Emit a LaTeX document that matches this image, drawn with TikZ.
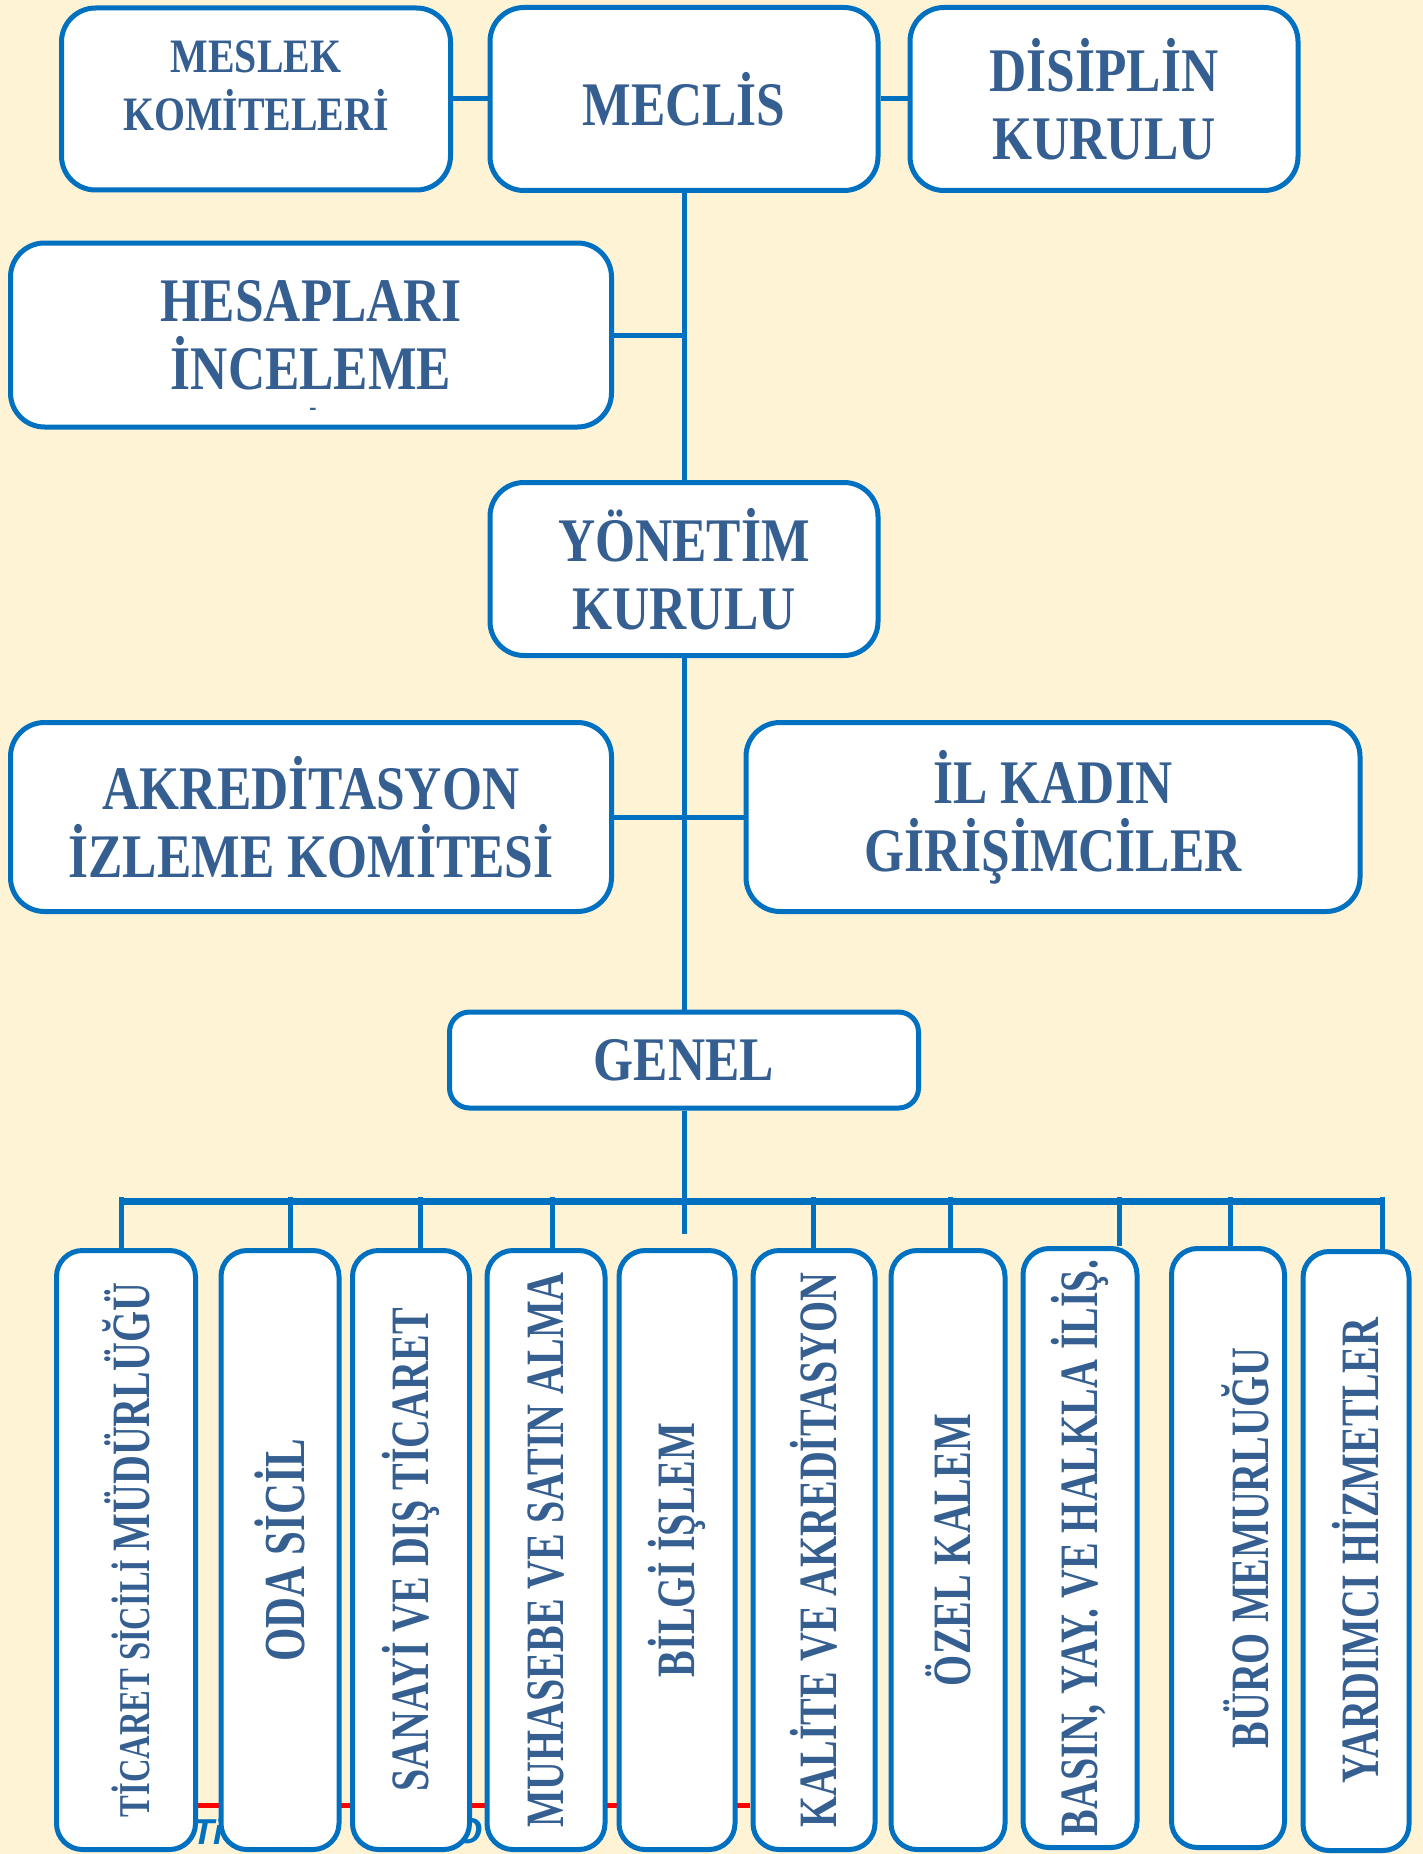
\documentclass[tikz,border=0pt]{standalone}
\usepackage{fontspec}
\setmainfont{Liberation Serif}[FakeStretch=0.83]
\newfontfamily\tallfont{Liberation Serif}[FakeStretch=0.74]
\newfontfamily\footfont{Liberation Sans}
\definecolor{paper}{HTML}{FFF3D6}
\definecolor{boxblue}{HTML}{0070C0}
\definecolor{inkblue}{HTML}{365F91}
\tikzset{
unit/.style={draw=boxblue, line width=5pt, fill=white, rounded corners=34pt, align=center, text=inkblue, inner sep=0pt, font=\bfseries\fontsize{62}{68}\selectfont}, % boxes of the upper part
dept/.style={unit, rounded corners=26pt, minimum height=599pt, font=\tallfont\bfseries\fontsize{54}{60}\selectfont}, % tall boxes at the bottom
link/.style={draw=boxblue, line width=5pt}, % connecting lines
foot/.style={text=boxblue, inner sep=0pt, font=\footfont\bfseries\itshape\fontsize{36}{36}\selectfont}, % footer behind the boxes
}

\begin{document}
\begin{tikzpicture}[x=1pt, y=-1pt]
    \fill[paper] (0,0) rectangle (1423,1854);
    \useasboundingbox (0,0) rectangle (1423,1854);
    % footer, mostly hidden
    \coordinate (redL) at (190,1805);
    \coordinate (redR) at (750,1805);
    \draw[red, line width=5pt] (redL) -- (redR);
    \node[foot, anchor=base west] (footT) at (192,1844) {Ti};
    \node[foot, anchor=base east] (footO) at (483,1843) {O};
    % upper part
    \node[unit, minimum width=389pt, minimum height=182pt] (meslek) at (256,99) {};
    \node[align=center, text=inkblue, inner sep=0pt, font=\bfseries\fontsize{48}{58}\selectfont] (meslektext) at (256,86) {MESLEK\\KOMİTELERİ};
    \node[unit, minimum width=388pt, minimum height=183pt] (meclis) at (684,99) {MECLİS};
    \node[unit, minimum width=388pt, minimum height=183pt] (disiplin) at (1104,99) {DİSİPLİN\\KURULU};
    \node[unit, minimum width=601pt, minimum height=184pt] (hesap) at (311,335) {HESAPLARI\\İNCELEME};
    \node[text=inkblue, inner sep=0pt, font=\bfseries\fontsize{26}{26}\selectfont] (hesapdash) at (313,412) {-};
    \node[unit, minimum width=388pt, minimum height=173pt] (yonetim) at (684,569) {YÖNETİM\\KURULU};
    \node[unit, minimum width=601pt, minimum height=189pt] (akredit) at (311,817) {AKREDİTASYON\\İZLEME KOMİTESİ};
    \node[unit, minimum width=614pt, minimum height=189pt] (ilkadin) at (1053,817) {İL KADIN\\GİRİŞİMCİLER};
    \node[unit, minimum width=469pt, minimum height=96pt, rounded corners=20pt] (genel) at (684,1060) {GENEL};
    % departments
    \node[dept, minimum width=139pt] (ticaret) at (126,1550) {\rotatebox{90}{\fontsize{44}{50}\selectfont TİCARET SİCİLİ \fontsize{54}{60}\selectfont MÜDÜRLÜĞÜ}};
    \node[dept, minimum width=118pt] (oda) at (280,1550) {\rotatebox{90}{\fontsize{58}{64}\selectfont ODA SİCİL}};
    \node[dept, minimum width=117pt] (sanayi) at (411,1550) {\rotatebox{90}{SANAYİ VE DIŞ TİCARET}};
    \node[dept, minimum width=118pt] (muhasebe) at (546,1550) {\rotatebox{90}{MUHASEBE VE SATIN ALMA}};
    \node[dept, minimum width=116pt] (bilgi) at (677,1550) {\rotatebox{90}{BİLGİ İŞLEM}};
    \node[dept, minimum width=122pt] (kalite) at (814,1550) {\rotatebox{90}{KALİTE VE AKREDİTASYON}};
    \node[dept, minimum width=114pt] (ozel) at (948,1550) {\rotatebox{90}{ÖZEL KALEM}};
    \node[dept, minimum width=114pt] (basin) at (1080,1548) {\rotatebox{90}{BASIN, YAY. VE HALKLA İLİŞ.}};
    \node[dept, minimum width=113pt] (buro) at (1228,1548) {\hspace*{34pt}\rotatebox{90}{BÜRO MEMURLUĞU}};
    \node[dept, minimum width=106pt] (yardimci) at (1356,1551) {\rotatebox{90}{YARDIMCI HİZMETLER}};
    % lines
    \draw[link] (meslek) -- (meclis)
    (meclis) -- (disiplin)
    (meclis) -- (yonetim)
    (hesap) -- (hesap -| meclis)
    (yonetim) -- (genel)
    (akredit) -- (ilkadin);
    \coordinate (stub) at (684,1234);
    \draw[link] (genel.south) -- (stub);
    \coordinate (busL) at (121,1201);
    \coordinate (busR) at (1382,1201);
    \draw[link, line width=7pt] (busL) -- (busR);
    \coordinate (tap1) at (121,1197);
    \coordinate (tap2) at (290,1197);
    \coordinate (tap3) at (420,1197);
    \coordinate (tap4) at (552,1197);
    \coordinate (tap6) at (813,1197);
    \coordinate (tap7) at (950,1197);
    \coordinate (tap8) at (1119,1197);
    \coordinate (tap9) at (1230,1197);
    \coordinate (tap10) at (1382,1197);
    \draw[link] (tap1) -- (tap1 |- ticaret.north)
    (tap2) -- (tap2 |- oda.north)
    (tap3) -- (tap3 |- sanayi.north)
    (tap4) -- (tap4 |- muhasebe.north)
    (tap6) -- (tap6 |- kalite.north)
    (tap7) -- (tap7 |- ozel.north)
    (tap8) -- (tap8 |- basin.north)
    (tap9) -- (tap9 |- buro.north)
    (tap10) -- (tap10 |- yardimci.north);
\end{tikzpicture}
\end{document}
